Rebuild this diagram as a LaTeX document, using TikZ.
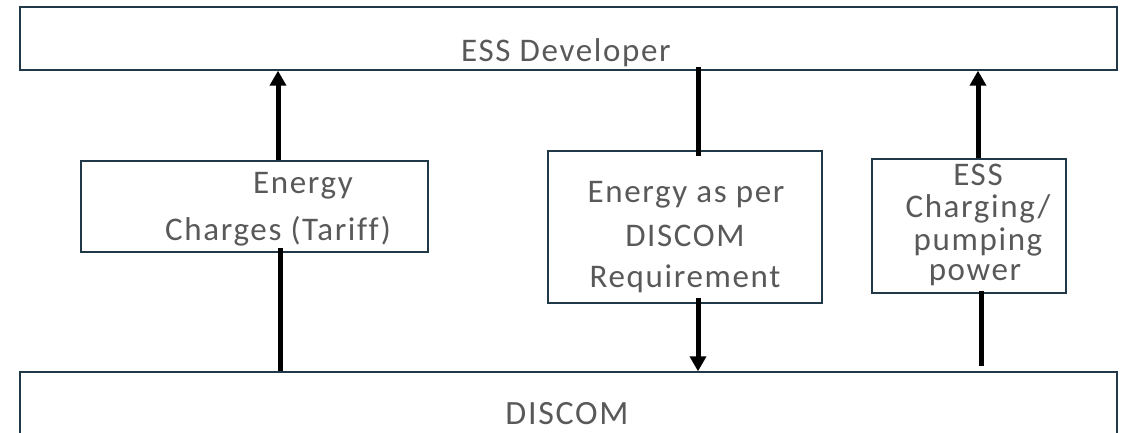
\documentclass[tikz,border=0pt]{standalone}
\usepackage{fontspec}
\setmainfont{Carlito}[LetterSpace=5,Ligatures=NoCommon]
\usetikzlibrary{arrows.meta}
\definecolor{boxline}{RGB}{32,56,72}
\definecolor{txt}{RGB}{89,89,89}
\begin{document}
\begin{tikzpicture}[x=1pt,y=-1pt,
  box/.style={draw=boxline, line width=1.4pt, inner sep=0pt},
  lbl/.style={text=txt, font=\fontsize{33}{40}\selectfont, inner sep=0pt, anchor=base},
  conn/.style={line width=5pt, black},
  arr/.style={conn, -{Triangle[length=15pt,width=16pt]}}]
\useasboundingbox (0,0) rectangle (1125,432);
% boxes
\node[box, minimum width=1097pt, minimum height=63pt] (top) at (568.5,38.5) {};
\node[box, minimum width=1097pt, minimum height=80pt] (bot) at (568.5,412) {};
\node[box, minimum width=347pt, minimum height=91pt] (lbox) at (254.5,206.5) {};
\node[box, minimum width=274pt, minimum height=152pt] (mbox) at (685,227) {};
\node[box, minimum width=194pt, minimum height=134pt] (rbox) at (969,226) {};
% texts
\node[lbl] (t1) at (566,61) {ESS Developer};
\node[lbl, font=\fontsize{34}{40}\selectfont] (t2) at (567,424) {DISCOM};
\node[lbl] (l1) at (303,193) {Energy};
\node[lbl] (l2) at (278,240) {Charges (Tariff)};
\node[lbl] (m1) at (686,202) {Energy as per};
\node[lbl] (m2) at (685,246) {DISCOM};
\node[lbl] (m3) at (685,287) {Requirement};
\node[lbl] (r1) at (978,185) {ESS};
\node[lbl] (r2) at (978,217) {Charging/};
\node[lbl] (r3) at (978,250) {pumping};
\node[lbl] (r4) at (975,280) {power};
% connectors
\draw[arr] ([xshift=23.5pt]lbox.north) -- ([xshift=23.5pt]lbox.north |- top.south);
\draw[conn, shorten <=-5pt] ([xshift=25.5pt]lbox.south) -- ([xshift=25.5pt]lbox.south |- bot.north);
\draw[conn, shorten <=-4pt, shorten >=-6pt] ([xshift=13pt]mbox.north |- top.south) -- ([xshift=13pt]mbox.north);
\draw[arr, shorten <=-6pt] ([xshift=13pt]mbox.south) -- ([xshift=13pt]mbox.south |- bot.north);
\draw[arr] ([xshift=9pt]rbox.north) -- ([xshift=9pt]rbox.north |- top.south);
\draw[conn, shorten <=-3pt, shorten >=5pt] ([xshift=12pt]rbox.south) -- ([xshift=12pt]rbox.south |- bot.north);
\end{tikzpicture}
\end{document}
